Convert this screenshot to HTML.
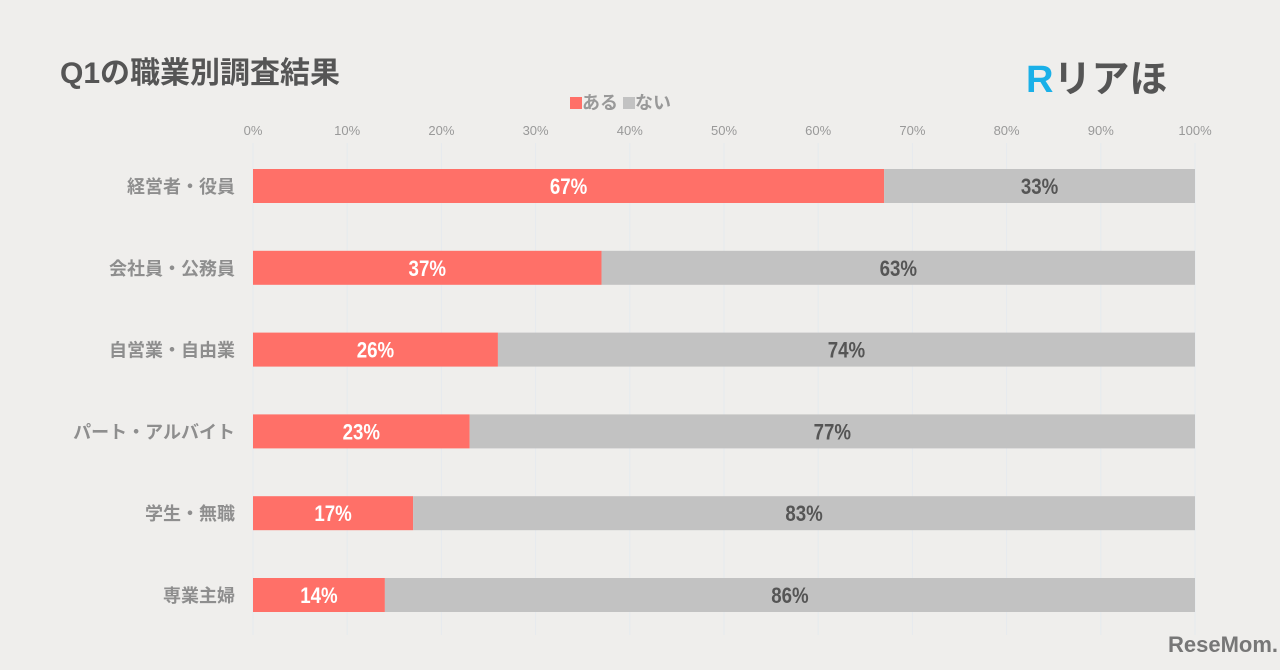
<!DOCTYPE html>
<html><head><meta charset="utf-8"><style>
body{margin:0;width:1280px;height:670px;background:#efeeec;font-family:"Liberation Sans","Noto Sans CJK JP",sans-serif;overflow:hidden;position:relative}
.t{position:absolute;white-space:nowrap}
</style></head><body>
<div class="t" style="left:60px;top:48px;font-size:30px;font-weight:bold;color:#555">Q1の職業別調査結果</div>
<div class="t" style="left:1026px;top:48px;font-size:38px;font-weight:bold;color:#555"><span style="color:#1ab0e8">R</span>リアほ</div>
<div class="t" style="left:570px;top:89px;font-size:18px;font-weight:bold;color:#999">
<span><span style="display:inline-block;width:12px;height:12px;background:#ff7068"></span>ある</span>
<span><span style="display:inline-block;width:12px;height:12px;background:#c2c2c2"></span>ない</span></div>
<div class="t" style="left:1168px;top:632px;font-size:22px;font-weight:bold;color:#777">ReseMom.</div>
<svg id="c" width="1280" height="670" style="position:absolute;left:0;top:0"></svg>
<script>
const categories=["経営者・役員","会社員・公務員","自営業・自由業","パート・アルバイト","学生・無職","専業主婦"];
const aru=[67,37,26,23,17,14];
const nai=[33,63,74,77,83,86];
const ticks=[0,10,20,30,40,50,60,70,80,90,100];
const svg=document.getElementById('c');const NS='http://www.w3.org/2000/svg';
const x=v=>253+v*9.42;const y=i=>186+i*81.8;
function mk(t,a){const e=document.createElementNS(NS,t);for(const k in a)e.setAttribute(k,a[k]);svg.appendChild(e);return e;}
ticks.forEach(t=>{
const l=mk('line',{x1:x(t),x2:x(t),y1:143,y2:635,stroke:'#e6eaee','stroke-width':1});


const tx=mk('text',{x:x(t),y:135,'text-anchor':'middle','font-size':13,fill:'#999'});tx.textContent=t+'%';


});
categories.forEach((c,i)=>{
const cy=y(i);
const lb=mk('text',{x:235,y:cy+7,'text-anchor':'end','font-size':18,'font-weight':'bold',fill:'#8e8e8e'});lb.textContent=c;


const b1=mk('rect',{x:x(0),y:cy-17,width:x(aru[i])-x(0),height:34,fill:'#ff7068'});


const b2=mk('rect',{x:x(aru[i]),y:cy-17,width:x(aru[i]+nai[i])-x(aru[i]),height:34,fill:'#c2c2c2'});


const m1=(x(0)+x(aru[i]))/2;
const t1=mk('text',{x:m1,y:cy+8,'text-anchor':'middle','font-size':22,'font-weight':'bold',fill:'#fff',transform:`translate(${m1*0.15},0) scale(0.85,1)`});t1.textContent=aru[i]+'%';


const m2=(x(aru[i])+x(aru[i]+nai[i]))/2;
const t2=mk('text',{x:m2,y:cy+8,'text-anchor':'middle','font-size':22,'font-weight':'bold',fill:'#555',transform:`translate(${m2*0.15},0) scale(0.85,1)`});t2.textContent=nai[i]+'%';


});
</script>
</body></html>
